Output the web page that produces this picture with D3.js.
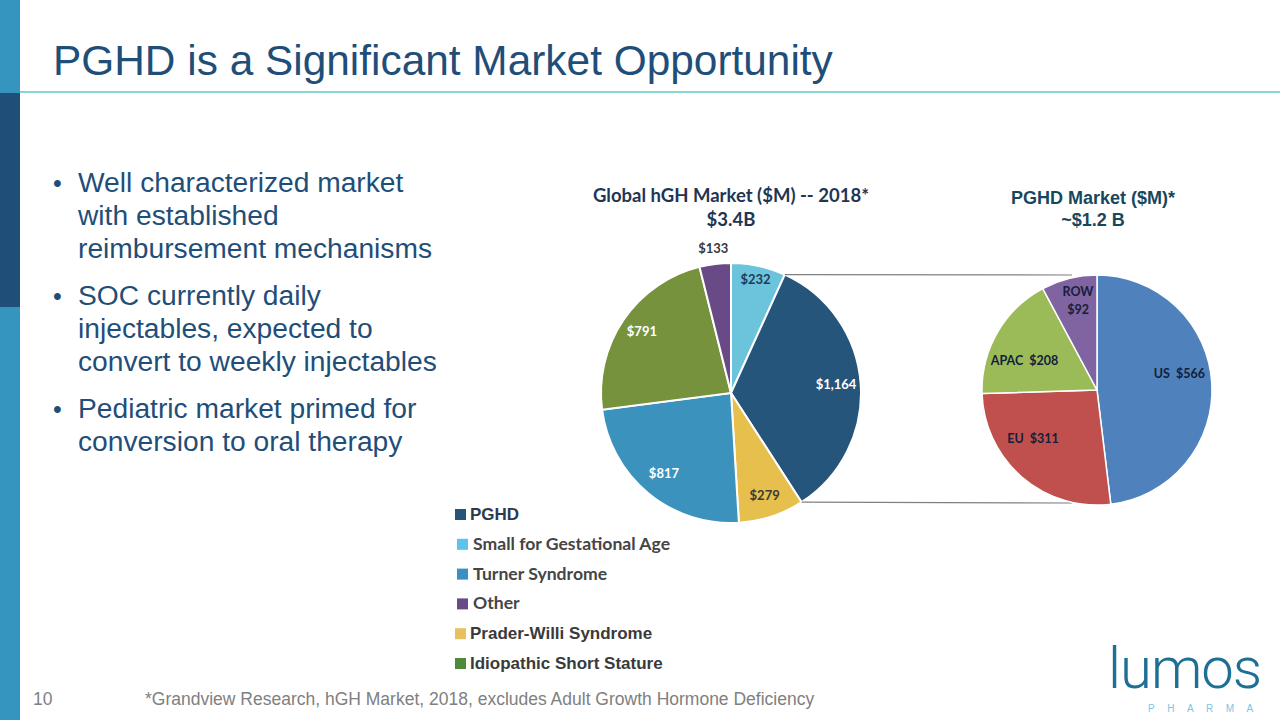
<!DOCTYPE html>
<html>
<head>
<meta charset="utf-8">
<script src="https://cdn.jsdelivr.net/npm/d3@7/dist/d3.min.js"></script>
<style>
  body { margin: 0; background: #fff; }
  svg { display: block; }
  .arial { font-family: Arial, "Liberation Sans", Helvetica, sans-serif; }
  .cal { font-family: Lato, "Open Sans", sans-serif; font-weight: bold; white-space: pre; }
</style>
</head>
<body>
<div id="slide"></div>
<script>
var width = 1280, height = 720;

// global hGH market, clockwise from 12 o'clock
var hghCategories = ["Small for Gestational Age", "PGHD", "Prader-Willi Syndrome", "Turner Syndrome", "Idiopathic Short Stature", "Other"];
var hghValues = [232, 1164, 279, 817, 791, 133];
var hghLabels = ["$232", "$1,164", "$279", "$817", "$791", "$133"];
var hghColors = ["#6cc3dc", "#26557c", "#e6bf4d", "#3b93bd", "#76923c", "#6a4a86"];

// PGHD market by region, clockwise from 12 o'clock
var pghdRegions = ["US", "EU", "APAC", "ROW"];
var pghdValues = [566, 311, 208, 92];
var pghdColors = ["#4f81bd", "#c0504d", "#9bbb59", "#8064a2"];

// legend (order as on slide)
var legendNames = ["PGHD", "Small for Gestational Age", "Turner Syndrome", "Other", "Prader-Willi Syndrome", "Idiopathic Short Stature"];
var legendColors = ["#26557c", "#5cc4ec", "#3b8fc2", "#6a4a86", "#e8c15e", "#4d8a3c"];

var bullets = [
  ["Well characterized market", "with established", "reimbursement mechanisms"],
  ["SOC currently daily", "injectables, expected to", "convert to weekly injectables"],
  ["Pediatric market primed for", "conversion to oral therapy"]
];

var svg = d3.select("#slide").append("svg")
    .attr("width", width)
    .attr("height", height)
    .attr("xmlns", "http://www.w3.org/2000/svg");

// left side bar
svg.append("rect").attr("x", 0).attr("y", 0).attr("width", 20).attr("height", height).attr("fill", "#3595be");
svg.append("rect").attr("x", 0).attr("y", 93).attr("width", 20).attr("height", 214).attr("fill", "#1f4e79");

// title + rule
svg.append("text")
    .attr("class", "arial")
    .attr("x", 53).attr("y", 75)
    .style("font-size", "42.4px").style("fill", "#1f4e79")
    .text("PGHD is a Significant Market Opportunity");
svg.append("line")
    .attr("x1", 20).attr("x2", width).attr("y1", 92).attr("y2", 92)
    .style("stroke", "#5cc8cc").style("stroke-width", 1.5);

// bullets
var by = 192;
for (var i = 0; i < bullets.length; i++) {
	svg.append("text")
		.attr("class", "arial")
		.attr("x", 53).attr("y", by)
		.style("font-size", "25px").style("fill", "#1f4e79")
		.text("\u2022");
	for (var j = 0; j < bullets[i].length; j++) {
		svg.append("text")
			.attr("class", "arial")
			.attr("x", 78).attr("y", by + j * 33)
			.style("font-size", "28.2px").style("fill", "#1f4e79")
			.text(bullets[i][j]);
	}
	by += (bullets[i].length - 1) * 33 + 47;
}

var pie = d3.pie().sort(null).value(function(d){ return d; });

// ---- global hGH pie
var c1 = {x: 731, y: 393, r: 130};
var c2 = {x: 1097, y: 390, r: 115};
var arcs1 = pie(hghValues);
var arc1 = d3.arc().innerRadius(0).outerRadius(c1.r);
var g1 = svg.append("g").attr("transform", "translate(" + c1.x + "," + c1.y + ")");

// connector lines drawn first, from PGHD slice edges to the region pie
var pg = arcs1[1];
var linePts = [
	[c1.x + c1.r * Math.sin(pg.startAngle), c1.y - c1.r * Math.cos(pg.startAngle), 1072, c2.y - c2.r],
	[c1.x + c1.r * Math.sin(pg.endAngle), c1.y - c1.r * Math.cos(pg.endAngle), 1072, 503]
];
svg.selectAll("line.connector")
	.data(linePts)
	.enter()
	.append("line")
	.attr("class", "connector")
	.attr("x1", function(d){ return d[0]; })
	.attr("y1", function(d){ return d[1]; })
	.attr("x2", function(d){ return d[2]; })
	.attr("y2", function(d){ return d[3]; })
	.style("stroke", "#808080").style("stroke-width", 1.2);

g1.selectAll("path")
	.data(arcs1)
	.enter()
	.append("path")
	.attr("d", arc1)
	.style("fill", function(d, i){ return hghColors[i]; })
	.style("stroke", "#fff").style("stroke-width", 2);

// label radius per slice, tuned to match the slide placement
var lab1R = [0.89, 0.81, 0.83, 0.81, 0.83, 1.12];
var lab1Fill = ["#1f3b5a", "#fff", "#3a3a3a", "#fff", "#fff", "#3a3a3a"];
g1.selectAll("text.val")
	.data(arcs1)
	.enter()
	.append("text")
	.attr("class", "val cal")
	.attr("x", function(d, i){ var a = (d.startAngle + d.endAngle) / 2; return Math.sin(a) * c1.r * lab1R[i]; })
	.attr("y", function(d, i){ var a = (d.startAngle + d.endAngle) / 2; return -Math.cos(a) * c1.r * lab1R[i] + 4; })
	.attr("text-anchor", "middle")
	.style("font-size", "13px")
	.style("fill", function(d, i){ return lab1Fill[i]; })
	.text(function(d, i){ return hghLabels[i]; });

svg.append("text")
	.attr("class", "cal")
	.attr("x", c1.x).attr("y", 202).attr("text-anchor", "middle")
	.style("font-size", "18.5px").style("fill", "#1f3554")
	.text("Global hGH Market ($M) -- 2018*");
svg.append("text")
	.attr("class", "cal")
	.attr("x", c1.x).attr("y", 226).attr("text-anchor", "middle")
	.style("font-size", "18.5px").style("fill", "#1f3554")
	.text("$3.4B");

// ---- PGHD region pie
var arcs2 = pie(pghdValues);
var arc2 = d3.arc().innerRadius(0).outerRadius(c2.r);
var g2 = svg.append("g").attr("transform", "translate(" + c2.x + "," + c2.y + ")");
g2.selectAll("path")
	.data(arcs2)
	.enter()
	.append("path")
	.attr("d", arc2)
	.style("fill", function(d, i){ return pghdColors[i]; })
	.style("stroke", "#fff").style("stroke-width", 1.5);

var lab2R = [0.73, 0.70, 0.68, 0.79];
var lab2Shift = [-7.5, 12, -8, 2]; // degrees
var lab2Text = [["US  $" + pghdValues[0]], ["EU  $" + pghdValues[1]], ["APAC  $" + pghdValues[2]], ["ROW", "$" + pghdValues[3]]];
g2.selectAll("text.reg")
	.data(arcs2)
	.enter()
	.append("text")
	.attr("class", "reg cal")
	.attr("text-anchor", "middle")
	.style("font-size", "12.5px").style("fill", "#14203a")
	.each(function(d, i){
		var a = (d.startAngle + d.endAngle) / 2 + lab2Shift[i] * Math.PI / 180;
		var x = Math.sin(a) * c2.r * lab2R[i];
		var y = -Math.cos(a) * c2.r * lab2R[i] + 4;
		var lines = lab2Text[i];
		for (var k = 0; k < lines.length; k++) {
			d3.select(this).append("tspan")
				.attr("x", x)
				.attr("y", y + (k - (lines.length - 1) / 2) * 18)
				.text(lines[k]);
		}
	});

svg.append("text")
	.attr("class", "arial")
	.attr("x", c2.x - 4).attr("y", 204).attr("text-anchor", "middle")
	.style("font-size", "18px").style("font-weight", "bold").style("fill", "#17475c")
	.text("PGHD Market ($M)*");
svg.append("text")
	.attr("class", "arial")
	.attr("x", c2.x - 4).attr("y", 226).attr("text-anchor", "middle")
	.style("font-size", "18px").style("font-weight", "bold").style("fill", "#17475c")
	.text("~$1.2 B");

// ---- legend (some entries set in Arial bold on the slide, others in Calibri bold)
var legArial = [true, false, false, false, true, true];
var legY = d3.scaleLinear().domain([0, legendNames.length - 1]).range([514, 663]);
var leg = svg.append("g");
leg.selectAll("rect")
	.data(legendNames)
	.enter()
	.append("rect")
	.attr("x", function(d, i){ return legArial[i] ? 455 : 457; })
	.attr("y", function(d, i){ return legY(i) - 5; })
	.attr("width", 11).attr("height", 11)
	.style("fill", function(d, i){ return legendColors[i]; });
leg.selectAll("text")
	.data(legendNames)
	.enter()
	.append("text")
	.attr("class", function(d, i){ return legArial[i] ? "arial" : "cal"; })
	.attr("x", function(d, i){ return legArial[i] ? 470 : 473; })
	.attr("y", function(d, i){ return legY(i) + 6; })
	.style("font-weight", "bold")
	.style("font-size", function(d, i){ return legArial[i] ? "17px" : "17.6px"; })
	.style("fill", function(d, i){ return i == 0 ? "#2a3a50" : (legArial[i] ? "#3a3a3a" : "#454545"); })
	.text(function(d){ return d; });

// ---- footer
svg.append("text")
	.attr("class", "arial")
	.attr("x", 33).attr("y", 705)
	.style("font-size", "17.5px").style("fill", "#808080")
	.text("10");
svg.append("text")
	.attr("class", "arial")
	.attr("x", 145).attr("y", 705)
	.style("font-size", "17.5px").style("fill", "#808080")
	.text("*Grandview Research, hGH Market, 2018, excludes Adult Growth Hormone Deficiency");

// ---- logo
svg.append("text")
	.attr("x", 1108).attr("y", 688)
	.attr("style", "font-family: Roboto, 'Open Sans', sans-serif; font-weight: 300; font-size: 58px; fill: #1c6f95; letter-spacing: -1px;")
	.text("lumos");
svg.append("text")
	.attr("class", "arial")
	.attr("x", 1148).attr("y", 712)
	.style("font-size", "10px").style("fill", "#7cc6e2").style("letter-spacing", "12.5px")
	.text("PHARMA");
</script>
</body>
</html>
